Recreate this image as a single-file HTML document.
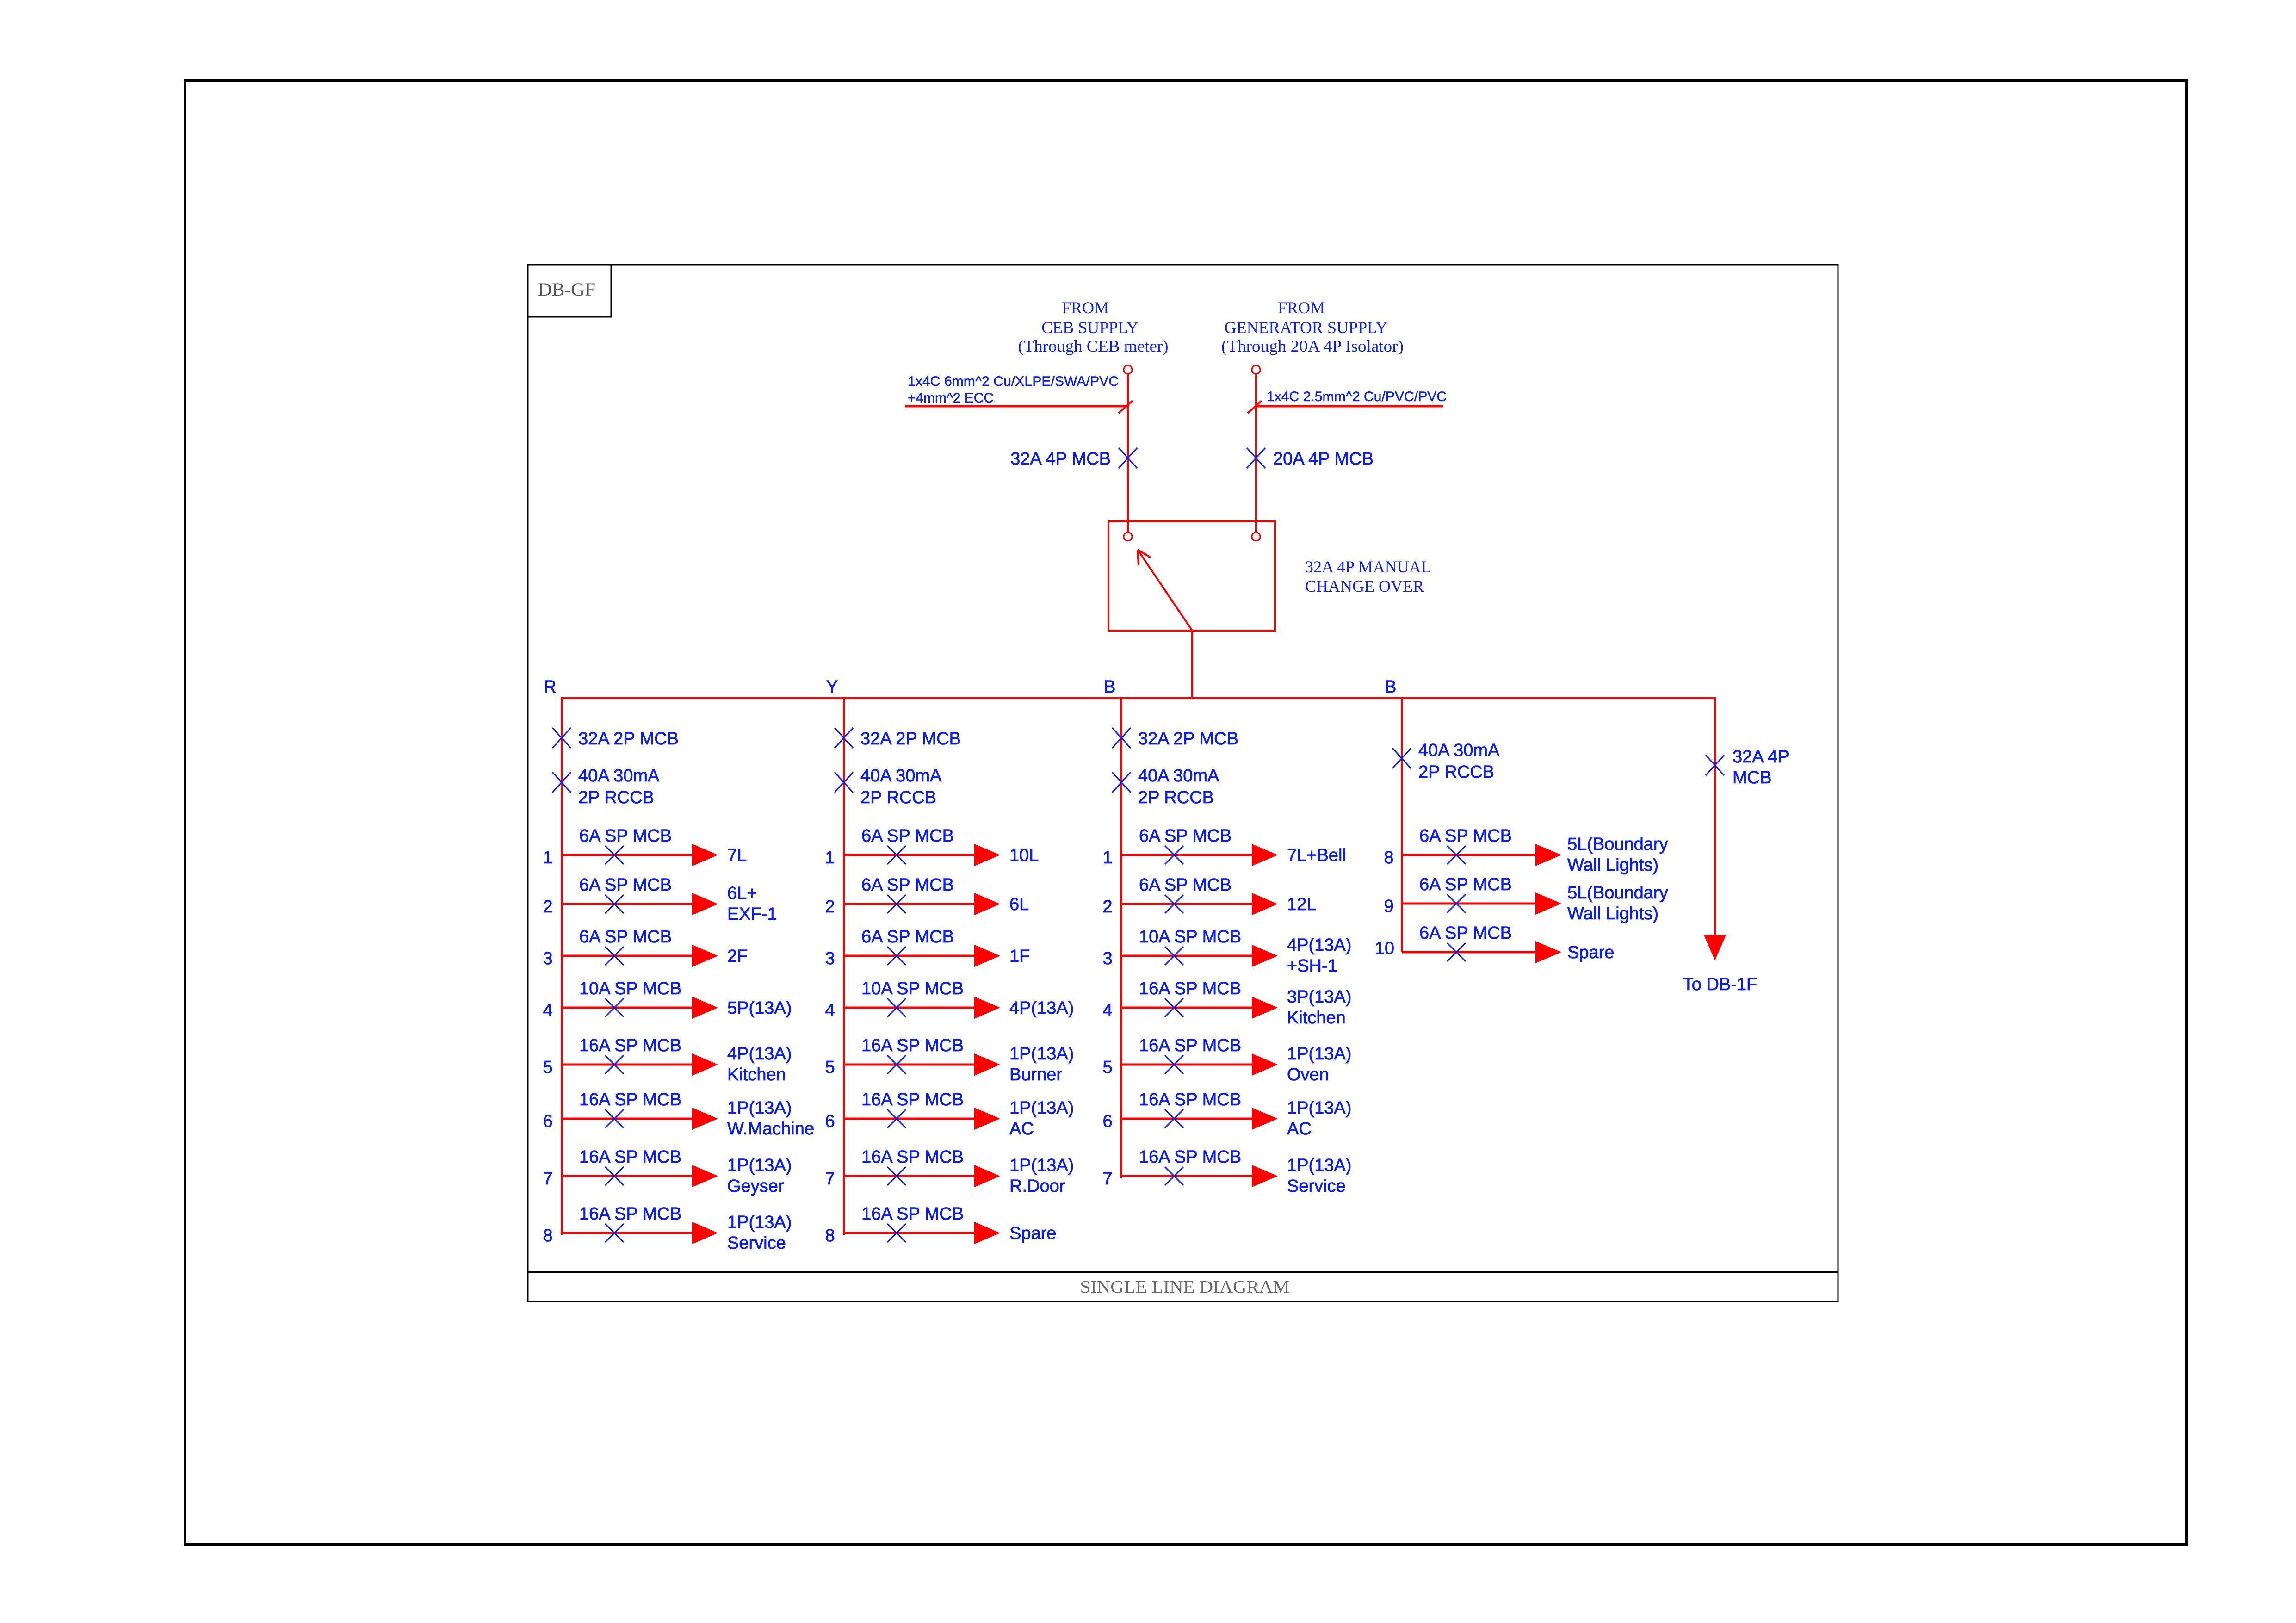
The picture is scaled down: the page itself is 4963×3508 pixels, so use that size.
<!DOCTYPE html>
<html><head><meta charset="utf-8"><style>
html,body{margin:0;padding:0;background:#fff;}
svg{display:block;}
.s{font-family:"Liberation Sans",Arial,sans-serif;fill:#0a1ee8;font-size:38px;stroke:#0a1ee8;stroke-width:0.8;}
.f{font-family:"Liberation Serif","Times New Roman",serif;fill:#0a1ee8;font-size:36px;}
.r{stroke:#f00;stroke-width:4;fill:none;}
.rb{stroke:#f00;stroke-width:5;fill:none;}
.x{stroke:#0a1ee8;stroke-width:3;fill:none;}
.t{fill:#f00;stroke:none;}
.m{text-anchor:middle;}
</style></head><body>
<svg width="4963" height="3508" viewBox="0 0 4963 3508" xmlns="http://www.w3.org/2000/svg">
<rect x="0" y="0" width="4963" height="3508" fill="#fff"/>
<rect x="400" y="174" width="4327" height="3164" fill="none" stroke="#000" stroke-width="6"/>
<rect x="1141" y="572" width="2832" height="2241" fill="none" stroke="#000" stroke-width="3"/>
<line x1="1141" y1="2749" x2="3973" y2="2749" stroke="#000" stroke-width="4"/>
<polyline points="1141,685 1321,685 1321,572" fill="none" stroke="#000" stroke-width="3"/>
<text x="1163" y="639" style="font-family:'Liberation Serif',serif;font-size:40px;fill:#555" textLength="124" lengthAdjust="spacingAndGlyphs">DB-GF</text>
<text x="2561" y="2794" class="m" style="font-family:'Liberation Serif',serif;font-size:38px;fill:#666" textLength="453" lengthAdjust="spacingAndGlyphs">SINGLE LINE DIAGRAM</text>

<text x="2346" y="677" class="f m">FROM</text>
<text x="2356" y="720" class="f m">CEB SUPPLY</text>
<text x="2363" y="760" class="f m" textLength="325" lengthAdjust="spacingAndGlyphs">(Through CEB meter)</text>
<text x="2813" y="677" class="f m">FROM</text>
<text x="2823" y="720" class="f m">GENERATOR SUPPLY</text>
<text x="2837" y="760" class="f m" textLength="394" lengthAdjust="spacingAndGlyphs">(Through 20A 4P Isolator)</text>

<text x="1962" y="834" class="s" style="font-size:30px;stroke-width:0.5" textLength="456" lengthAdjust="spacingAndGlyphs">1x4C 6mm^2 Cu/XLPE/SWA/PVC</text>
<text x="1962" y="870" class="s" style="font-size:30px;stroke-width:0.5" textLength="186" lengthAdjust="spacingAndGlyphs">+4mm^2 ECC</text>
<text x="2738" y="867" class="s" style="font-size:30px;stroke-width:0.5" textLength="389" lengthAdjust="spacingAndGlyphs">1x4C 2.5mm^2 Cu/PVC/PVC</text>
<line x1="1956" y1="878" x2="2438" y2="878" class="rb"/>
<line x1="2715" y1="878" x2="3119" y2="878" class="rb"/>
<line x1="2418" y1="893" x2="2448" y2="866" class="r"/>
<line x1="2697" y1="893" x2="2727" y2="866" class="r"/>
<circle cx="2438" cy="799" r="9" class="r" style="stroke-width:3"/>
<circle cx="2715" cy="799" r="9" class="r" style="stroke-width:3"/>
<line x1="2438" y1="808" x2="2438" y2="1151" class="r"/>
<line x1="2715" y1="808" x2="2715" y2="1151" class="r"/>
<path d="M2418,968 L2458,1012 M2458,968 L2418,1012" class="x"/>
<path d="M2695,968 L2735,1012 M2735,968 L2695,1012" class="x"/>
<text x="2401" y="1004" class="s" text-anchor="end">32A 4P MCB</text>
<text x="2752" y="1004" class="s">20A 4P MCB</text>

<rect x="2396" y="1127" width="360" height="236" class="r"/>
<circle cx="2438" cy="1160" r="9" class="r" style="stroke-width:3"/>
<circle cx="2715" cy="1160" r="9" class="r" style="stroke-width:3"/>
<line x1="2577" y1="1363" x2="2459" y2="1188" class="r"/>
<path d="M2459,1188 L2461,1222 M2459,1188 L2487,1205" class="r"/>
<line x1="2577" y1="1363" x2="2577" y2="1509" class="r"/>
<text x="2821" y="1237" class="f">32A 4P MANUAL</text>
<text x="2821" y="1279" class="f">CHANGE OVER</text>

<polyline points="1214,2669 1214,1509 3707,1509 3707,2025" class="r"/>
<line x1="1824" y1="1509" x2="1824" y2="2669" class="r"/>
<line x1="2424" y1="1509" x2="2424" y2="2546" class="r"/>
<line x1="3030" y1="1509" x2="3030" y2="2058" class="r"/>
<text x="1175" y="1497" class="s">R</text>
<text x="1786" y="1497" class="s">Y</text>
<text x="2386" y="1497" class="s">B</text>
<text x="2993" y="1497" class="s">B</text>

<g transform="translate(1214,0)">
<path d="M-20,1573 L20,1617 M20,1573 L-20,1617" class="x"/><text x="36" y="1609" class="s">32A 2P MCB</text>
<path d="M-20,1669 L20,1713 M20,1669 L-20,1713" class="x"/><text x="36" y="1689" class="s">40A 30mA</text><text x="36" y="1736" class="s">2P RCCB</text>
</g>
<g transform="translate(1824,0)">
<path d="M-20,1573 L20,1617 M20,1573 L-20,1617" class="x"/><text x="36" y="1609" class="s">32A 2P MCB</text>
<path d="M-20,1669 L20,1713 M20,1669 L-20,1713" class="x"/><text x="36" y="1689" class="s">40A 30mA</text><text x="36" y="1736" class="s">2P RCCB</text>
</g>
<g transform="translate(2424,0)">
<path d="M-20,1573 L20,1617 M20,1573 L-20,1617" class="x"/><text x="36" y="1609" class="s">32A 2P MCB</text>
<path d="M-20,1669 L20,1713 M20,1669 L-20,1713" class="x"/><text x="36" y="1689" class="s">40A 30mA</text><text x="36" y="1736" class="s">2P RCCB</text>
</g>
<g transform="translate(3030,0)">
<path d="M-20,1617 L20,1661 M20,1617 L-20,1661" class="x"/><text x="36" y="1634" class="s">40A 30mA</text><text x="36" y="1681" class="s">2P RCCB</text>
</g>
<path d="M3687,1632 L3727,1676 M3727,1632 L3687,1676" class="x"/>
<text x="3745" y="1648" class="s">32A 4P</text><text x="3745" y="1693" class="s">MCB</text>
<path d="M3683,2021 L3731,2021 L3707,2076 Z" class="t"/>
<text x="3718" y="2140" class="s m">To DB-1F</text>

<g transform="translate(1214,1848)"><line x1="0" y1="0" x2="290" y2="0" class="rb"/><path d="M282,-24 L338,0 L282,24Z" class="t"/><path d="M94,-20 L134,20 M134,-20 L94,20" class="x"/><text x="38" y="-29" class="s">6A SP MCB</text><text x="-30" y="18" class="s m">1</text><text x="358" y="13" class="s">7L</text></g>
<g transform="translate(1214,1954)"><line x1="0" y1="0" x2="290" y2="0" class="rb"/><path d="M282,-24 L338,0 L282,24Z" class="t"/><path d="M94,-20 L134,20 M134,-20 L94,20" class="x"/><text x="38" y="-29" class="s">6A SP MCB</text><text x="-30" y="18" class="s m">2</text><text x="358" y="-11" class="s">6L+</text><text x="358" y="34" class="s">EXF-1</text></g>
<g transform="translate(1214,2066)"><line x1="0" y1="0" x2="290" y2="0" class="rb"/><path d="M282,-24 L338,0 L282,24Z" class="t"/><path d="M94,-20 L134,20 M134,-20 L94,20" class="x"/><text x="38" y="-29" class="s">6A SP MCB</text><text x="-30" y="18" class="s m">3</text><text x="358" y="13" class="s">2F</text></g>
<g transform="translate(1214,2178)"><line x1="0" y1="0" x2="290" y2="0" class="rb"/><path d="M282,-24 L338,0 L282,24Z" class="t"/><path d="M94,-20 L134,20 M134,-20 L94,20" class="x"/><text x="38" y="-29" class="s">10A SP MCB</text><text x="-30" y="18" class="s m">4</text><text x="358" y="13" class="s">5P(13A)</text></g>
<g transform="translate(1214,2301)"><line x1="0" y1="0" x2="290" y2="0" class="rb"/><path d="M282,-24 L338,0 L282,24Z" class="t"/><path d="M94,-20 L134,20 M134,-20 L94,20" class="x"/><text x="38" y="-29" class="s">16A SP MCB</text><text x="-30" y="18" class="s m">5</text><text x="358" y="-11" class="s">4P(13A)</text><text x="358" y="34" class="s">Kitchen</text></g>
<g transform="translate(1214,2418)"><line x1="0" y1="0" x2="290" y2="0" class="rb"/><path d="M282,-24 L338,0 L282,24Z" class="t"/><path d="M94,-20 L134,20 M134,-20 L94,20" class="x"/><text x="38" y="-29" class="s">16A SP MCB</text><text x="-30" y="18" class="s m">6</text><text x="358" y="-11" class="s">1P(13A)</text><text x="358" y="34" class="s">W.Machine</text></g>
<g transform="translate(1214,2542)"><line x1="0" y1="0" x2="290" y2="0" class="rb"/><path d="M282,-24 L338,0 L282,24Z" class="t"/><path d="M94,-20 L134,20 M134,-20 L94,20" class="x"/><text x="38" y="-29" class="s">16A SP MCB</text><text x="-30" y="18" class="s m">7</text><text x="358" y="-11" class="s">1P(13A)</text><text x="358" y="34" class="s">Geyser</text></g>
<g transform="translate(1214,2665)"><line x1="0" y1="0" x2="290" y2="0" class="rb"/><path d="M282,-24 L338,0 L282,24Z" class="t"/><path d="M94,-20 L134,20 M134,-20 L94,20" class="x"/><text x="38" y="-29" class="s">16A SP MCB</text><text x="-30" y="18" class="s m">8</text><text x="358" y="-11" class="s">1P(13A)</text><text x="358" y="34" class="s">Service</text></g>

<g transform="translate(1824,1848)"><line x1="0" y1="0" x2="290" y2="0" class="rb"/><path d="M282,-24 L338,0 L282,24Z" class="t"/><path d="M94,-20 L134,20 M134,-20 L94,20" class="x"/><text x="38" y="-29" class="s">6A SP MCB</text><text x="-30" y="18" class="s m">1</text><text x="358" y="13" class="s">10L</text></g>
<g transform="translate(1824,1954)"><line x1="0" y1="0" x2="290" y2="0" class="rb"/><path d="M282,-24 L338,0 L282,24Z" class="t"/><path d="M94,-20 L134,20 M134,-20 L94,20" class="x"/><text x="38" y="-29" class="s">6A SP MCB</text><text x="-30" y="18" class="s m">2</text><text x="358" y="13" class="s">6L</text></g>
<g transform="translate(1824,2066)"><line x1="0" y1="0" x2="290" y2="0" class="rb"/><path d="M282,-24 L338,0 L282,24Z" class="t"/><path d="M94,-20 L134,20 M134,-20 L94,20" class="x"/><text x="38" y="-29" class="s">6A SP MCB</text><text x="-30" y="18" class="s m">3</text><text x="358" y="13" class="s">1F</text></g>
<g transform="translate(1824,2178)"><line x1="0" y1="0" x2="290" y2="0" class="rb"/><path d="M282,-24 L338,0 L282,24Z" class="t"/><path d="M94,-20 L134,20 M134,-20 L94,20" class="x"/><text x="38" y="-29" class="s">10A SP MCB</text><text x="-30" y="18" class="s m">4</text><text x="358" y="13" class="s">4P(13A)</text></g>
<g transform="translate(1824,2301)"><line x1="0" y1="0" x2="290" y2="0" class="rb"/><path d="M282,-24 L338,0 L282,24Z" class="t"/><path d="M94,-20 L134,20 M134,-20 L94,20" class="x"/><text x="38" y="-29" class="s">16A SP MCB</text><text x="-30" y="18" class="s m">5</text><text x="358" y="-11" class="s">1P(13A)</text><text x="358" y="34" class="s">Burner</text></g>
<g transform="translate(1824,2418)"><line x1="0" y1="0" x2="290" y2="0" class="rb"/><path d="M282,-24 L338,0 L282,24Z" class="t"/><path d="M94,-20 L134,20 M134,-20 L94,20" class="x"/><text x="38" y="-29" class="s">16A SP MCB</text><text x="-30" y="18" class="s m">6</text><text x="358" y="-11" class="s">1P(13A)</text><text x="358" y="34" class="s">AC</text></g>
<g transform="translate(1824,2542)"><line x1="0" y1="0" x2="290" y2="0" class="rb"/><path d="M282,-24 L338,0 L282,24Z" class="t"/><path d="M94,-20 L134,20 M134,-20 L94,20" class="x"/><text x="38" y="-29" class="s">16A SP MCB</text><text x="-30" y="18" class="s m">7</text><text x="358" y="-11" class="s">1P(13A)</text><text x="358" y="34" class="s">R.Door</text></g>
<g transform="translate(1824,2665)"><line x1="0" y1="0" x2="290" y2="0" class="rb"/><path d="M282,-24 L338,0 L282,24Z" class="t"/><path d="M94,-20 L134,20 M134,-20 L94,20" class="x"/><text x="38" y="-29" class="s">16A SP MCB</text><text x="-30" y="18" class="s m">8</text><text x="358" y="13" class="s">Spare</text></g>

<g transform="translate(2424,1848)"><line x1="0" y1="0" x2="290" y2="0" class="rb"/><path d="M282,-24 L338,0 L282,24Z" class="t"/><path d="M94,-20 L134,20 M134,-20 L94,20" class="x"/><text x="38" y="-29" class="s">6A SP MCB</text><text x="-30" y="18" class="s m">1</text><text x="358" y="13" class="s">7L+Bell</text></g>
<g transform="translate(2424,1954)"><line x1="0" y1="0" x2="290" y2="0" class="rb"/><path d="M282,-24 L338,0 L282,24Z" class="t"/><path d="M94,-20 L134,20 M134,-20 L94,20" class="x"/><text x="38" y="-29" class="s">6A SP MCB</text><text x="-30" y="18" class="s m">2</text><text x="358" y="13" class="s">12L</text></g>
<g transform="translate(2424,2066)"><line x1="0" y1="0" x2="290" y2="0" class="rb"/><path d="M282,-24 L338,0 L282,24Z" class="t"/><path d="M94,-20 L134,20 M134,-20 L94,20" class="x"/><text x="38" y="-29" class="s">10A SP MCB</text><text x="-30" y="18" class="s m">3</text><text x="358" y="-11" class="s">4P(13A)</text><text x="358" y="34" class="s">+SH-1</text></g>
<g transform="translate(2424,2178)"><line x1="0" y1="0" x2="290" y2="0" class="rb"/><path d="M282,-24 L338,0 L282,24Z" class="t"/><path d="M94,-20 L134,20 M134,-20 L94,20" class="x"/><text x="38" y="-29" class="s">16A SP MCB</text><text x="-30" y="18" class="s m">4</text><text x="358" y="-11" class="s">3P(13A)</text><text x="358" y="34" class="s">Kitchen</text></g>
<g transform="translate(2424,2301)"><line x1="0" y1="0" x2="290" y2="0" class="rb"/><path d="M282,-24 L338,0 L282,24Z" class="t"/><path d="M94,-20 L134,20 M134,-20 L94,20" class="x"/><text x="38" y="-29" class="s">16A SP MCB</text><text x="-30" y="18" class="s m">5</text><text x="358" y="-11" class="s">1P(13A)</text><text x="358" y="34" class="s">Oven</text></g>
<g transform="translate(2424,2418)"><line x1="0" y1="0" x2="290" y2="0" class="rb"/><path d="M282,-24 L338,0 L282,24Z" class="t"/><path d="M94,-20 L134,20 M134,-20 L94,20" class="x"/><text x="38" y="-29" class="s">16A SP MCB</text><text x="-30" y="18" class="s m">6</text><text x="358" y="-11" class="s">1P(13A)</text><text x="358" y="34" class="s">AC</text></g>
<g transform="translate(2424,2542)"><line x1="0" y1="0" x2="290" y2="0" class="rb"/><path d="M282,-24 L338,0 L282,24Z" class="t"/><path d="M94,-20 L134,20 M134,-20 L94,20" class="x"/><text x="38" y="-29" class="s">16A SP MCB</text><text x="-30" y="18" class="s m">7</text><text x="358" y="-11" class="s">1P(13A)</text><text x="358" y="34" class="s">Service</text></g>

<g transform="translate(3030,1848)"><line x1="0" y1="0" x2="296" y2="0" class="rb"/><path d="M289,-24 L345,0 L289,24Z" class="t"/><path d="M98,-20 L138,20 M138,-20 L98,20" class="x"/><text x="38" y="-29" class="s">6A SP MCB</text><text x="-28" y="18" class="s m">8</text><text x="358" y="-11" class="s">5L(Boundary</text><text x="358" y="34" class="s">Wall Lights)</text></g>
<g transform="translate(3030,1953)"><line x1="0" y1="0" x2="296" y2="0" class="rb"/><path d="M289,-24 L345,0 L289,24Z" class="t"/><path d="M98,-20 L138,20 M138,-20 L98,20" class="x"/><text x="38" y="-29" class="s">6A SP MCB</text><text x="-28" y="18" class="s m">9</text><text x="358" y="-11" class="s">5L(Boundary</text><text x="358" y="34" class="s">Wall Lights)</text></g>
<g transform="translate(3030,2058)"><line x1="0" y1="0" x2="296" y2="0" class="rb"/><path d="M289,-24 L345,0 L289,24Z" class="t"/><path d="M98,-20 L138,20 M138,-20 L98,20" class="x"/><text x="38" y="-29" class="s">6A SP MCB</text><text x="-16" y="4" class="s" text-anchor="end">10</text><text x="358" y="13" class="s">Spare</text></g>
</svg>
</body></html>
